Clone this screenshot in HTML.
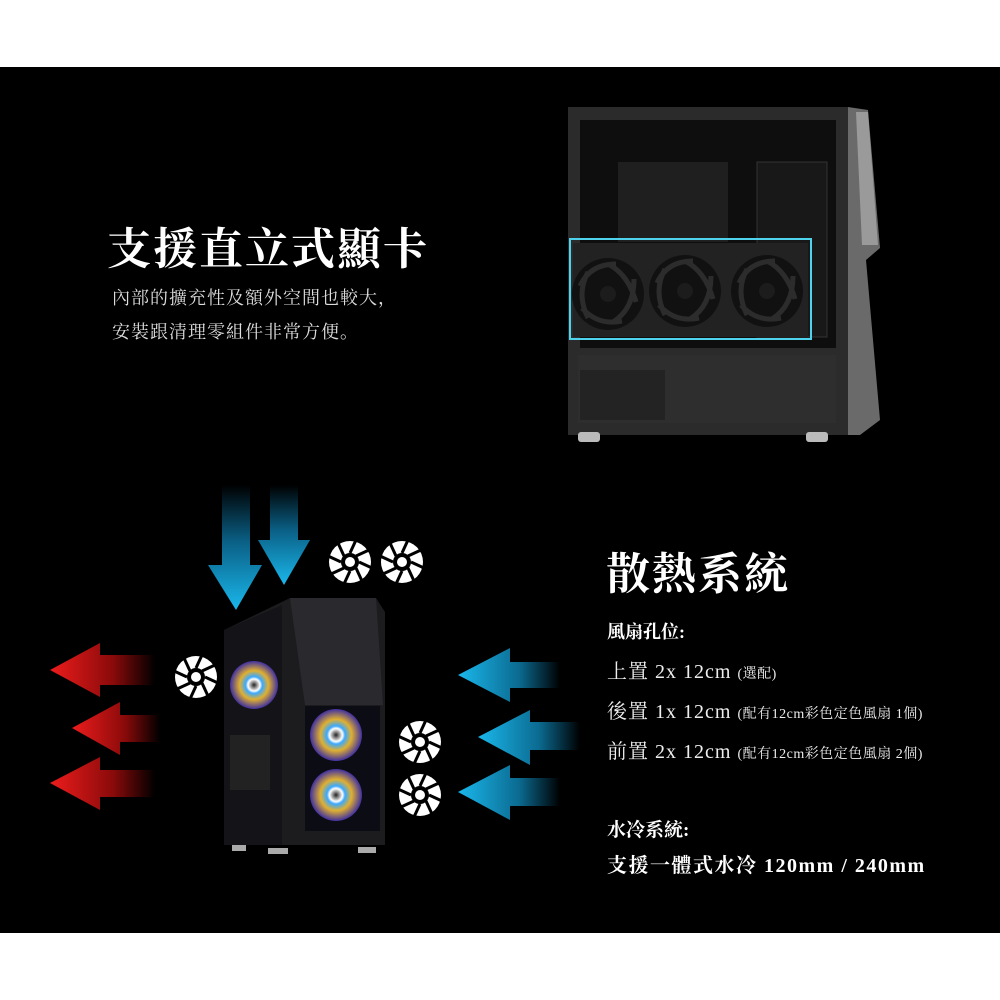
<!DOCTYPE html>
<html><head><meta charset="utf-8"><style>
html,body{margin:0;padding:0;background:#fff;}
#c{position:relative;width:1000px;height:1000px;background:#fff;overflow:hidden;font-family:"Liberation Serif","Noto Serif CJK SC","Noto Sans CJK TC",serif;}
#bk{position:absolute;left:0;top:67px;width:1000px;height:866px;background:#000;}
.t{position:absolute;color:#fff;white-space:nowrap;}
.s{font-size:14px;letter-spacing:0.5px}
</style></head><body><div id="c"><div id="bk"></div>
<svg width="1000" height="1000" style="position:absolute;left:0;top:0">
<defs>
<linearGradient id="bd" x1="0" y1="0" x2="0" y2="1"><stop offset="0" stop-color="#000"/><stop offset="0.45" stop-color="#0a5f85"/><stop offset="1" stop-color="#1ab8ec"/></linearGradient>
<linearGradient id="bl" x1="1" y1="0" x2="0" y2="0"><stop offset="0" stop-color="#000"/><stop offset="0.4" stop-color="#0b6a90"/><stop offset="1" stop-color="#1ab8ec"/></linearGradient>
<linearGradient id="rl" x1="1" y1="0" x2="0" y2="0"><stop offset="0" stop-color="#000"/><stop offset="0.4" stop-color="#8a0a0a"/><stop offset="1" stop-color="#ee1c1c"/></linearGradient>
<radialGradient id="rgb"><stop offset="0" stop-color="#222"/><stop offset="0.25" stop-color="#fff"/><stop offset="0.35" stop-color="#3aa8ff"/><stop offset="0.6" stop-color="#e0b030"/><stop offset="1" stop-color="#4030a0"/></radialGradient>
<g id="fan"><circle r="21" fill="#fff"/><circle r="9" fill="#000"/><circle r="5" fill="#fff"/>
<g stroke="#000" stroke-width="3"><line x1="0" y1="-9" x2="6" y2="-22"/><line x1="0" y1="9" x2="-6" y2="22"/><line x1="9" y1="0" x2="22" y2="6"/><line x1="-9" y1="0" x2="-22" y2="-6"/><line x1="6" y1="-6" x2="19" y2="-12"/><line x1="-6" y1="6" x2="-19" y2="12"/><line x1="6" y1="6" x2="12" y2="19"/><line x1="-6" y1="-6" x2="-12" y2="-19"/></g></g>
<g id="gf"><circle r="36" fill="#111"/><g fill="none" stroke="#2c2c2c" stroke-width="5"><path d="M0,-30 Q20,-20 28,8"/><path d="M26,-15 Q26,15 5,28"/><path d="M14,27 Q-10,32 -26,14"/><path d="M-20,24 Q-32,0 -20,-22"/><path d="M-28,-8 Q-18,-30 8,-30"/></g><circle r="8" fill="#1c1c1c"/></g>
</defs>
<rect x="568" y="107" width="280" height="328" fill="#2b2b2b"/>
<polygon points="848,107 868,110 880,248 866,260 880,420 860,435 848,435" fill="#6a6a6a"/>
<polygon points="856,112 868,112 878,245 862,245" fill="#9a9a9a"/>
<rect x="580" y="120" width="256" height="228" fill="#0e0e0e"/>
<rect x="618" y="162" width="110" height="80" fill="#1f1f1f"/>
<rect x="757" y="162" width="70" height="175" fill="#181818" stroke="#333"/>
<rect x="578" y="355" width="258" height="68" fill="#2e2e2e"/>
<rect x="580" y="370" width="85" height="50" fill="#232323"/>
<rect x="578" y="432" width="22" height="10" rx="3" fill="#bbb"/><rect x="806" y="432" width="22" height="10" rx="3" fill="#bbb"/>
<rect x="573" y="243" width="235" height="94" fill="#222"/>
<use href="#gf" x="608" y="294"/><use href="#gf" x="685" y="291"/><use href="#gf" x="767" y="291"/>
<rect x="570" y="239" width="241" height="100" fill="none" stroke="#4fd3ec" stroke-width="2"/>
<polygon points="222,485 250,485 250,565 262,565 236,610 208,565 222,565" fill="url(#bd)"/>
<polygon points="270,485 298,485 298,540 310,540 284,585 258,540 270,540" fill="url(#bd)"/>
<polygon points="155,655 100,655 100,643 50,670 100,697 100,685 155,685" fill="url(#rl)"/>
<polygon points="160,715 120,715 120,702 72,728 120,755 120,742 160,742" fill="url(#rl)"/>
<polygon points="155,770 100,770 100,757 50,783 100,810 100,797 155,797" fill="url(#rl)"/>
<polygon points="560,662 510,662 510,648 458,675 510,702 510,688 560,688" fill="url(#bl)"/>
<polygon points="580,722 530,722 530,710 478,737 530,765 530,750 580,750" fill="url(#bl)"/>
<polygon points="560,778 510,778 510,765 458,792 510,820 510,806 560,806" fill="url(#bl)"/>
<use href="#fan" x="350" y="562"/><use href="#fan" x="402" y="562"/><use href="#fan" x="196" y="677"/><use href="#fan" x="420" y="742"/><use href="#fan" x="420" y="795"/>
<polygon points="224,630 290,598 376,598 385,612 385,845 224,845" fill="#1c1c1f"/>
<polygon points="224,630 282,605 282,845 224,845" fill="#141418"/>
<polygon points="290,598 376,598 383,705 305,705" fill="#2a2a2e"/>
<rect x="305" y="706" width="75" height="125" fill="#0c0c14"/>
<circle cx="254" cy="685" r="24" fill="url(#rgb)"/>
<circle cx="336" cy="735" r="26" fill="url(#rgb)"/>
<circle cx="336" cy="795" r="26" fill="url(#rgb)"/>
<rect x="230" y="735" width="40" height="55" fill="#222"/>
<rect x="232" y="845" width="14" height="6" fill="#aaa"/><rect x="268" y="848" width="20" height="6" fill="#aaa"/><rect x="358" y="847" width="18" height="6" fill="#aaa"/>
</svg>
<div class="t" style="left:107px;top:213px;font-size:44px;font-weight:bold;letter-spacing:2px;">支援直立式顯卡</div>
<div class="t" style="left:112px;top:281px;font-size:18px;color:#ddd;letter-spacing:1px;line-height:34px;">內部的擴充性及額外空間也較大，<br>安裝跟清理零組件非常方便。</div>
<div class="t" style="left:606px;top:538px;font-size:44px;font-weight:bold;letter-spacing:2px;">散熱系統</div>
<div class="t" style="left:607px;top:618px;font-size:18px;font-weight:bold;">風扇孔位:</div>
<div class="t" style="left:607px;top:655px;font-size:20px;color:#eee;letter-spacing:1px;">上置 2x 12cm <span class="s">(選配)</span></div>
<div class="t" style="left:607px;top:695px;font-size:20px;color:#eee;letter-spacing:1px;">後置 1x 12cm <span class="s">(配有12cm彩色定色風扇 1個)</span></div>
<div class="t" style="left:607px;top:735px;font-size:20px;color:#eee;letter-spacing:1px;">前置 2x 12cm <span class="s">(配有12cm彩色定色風扇 2個)</span></div>
<div class="t" style="left:607px;top:815px;font-size:19px;font-weight:bold;">水冷系統:</div>
<div class="t" style="left:607px;top:849px;font-size:20px;font-weight:bold;letter-spacing:1.5px;">支援一體式水冷 120mm / 240mm</div>
</div></body></html>
